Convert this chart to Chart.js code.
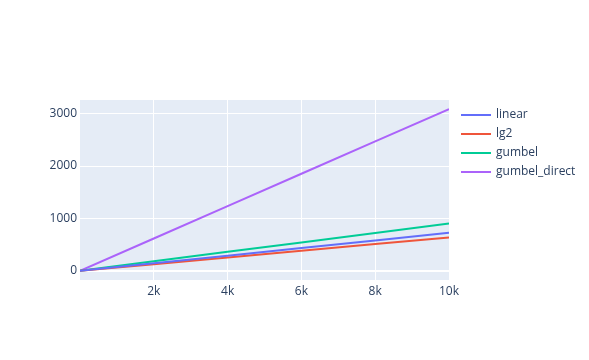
<!DOCTYPE html>
<html>
<head>
<meta charset="utf-8">
<script src="https://cdn.jsdelivr.net/npm/chart.js@4"></script>
<style>
  html, body { margin: 0; padding: 0; background: #fff; }
  #wrap { width: 589px; height: 360px; }
</style>
</head>
<body>
<div id="wrap"><canvas id="chart" width="589" height="360"></canvas></div>
<script>
// values
const xValues = [0, 2000, 4000, 6000, 8000, 10000];
const linear = [0, 145, 290, 435, 580, 725];
const lg2 = [0, 127, 255, 382, 510, 637];
const gumbel = [0, 181, 362, 542, 723, 904];
const gumbelDirect = [0, 617, 1234, 1852, 2469, 3086];
const seriesNames = ["linear", "lg2", "gumbel", "gumbel_direct"];
const seriesColors = ["#636efa", "#EF553B", "#00cc96", "#ab63fa"];
const yTicks = [0, 1000, 2000, 3000];
const xTicks = [2000, 4000, 6000, 8000, 10000];

const FONT = "'Open Sans', 'Noto Sans', sans-serif";
const TEXT = "#2a3f5f";

function pts(ys) {
  return xValues.map((x, i) => ({ x: x, y: ys[i] }));
}

const allSeries = [linear, lg2, gumbel, gumbelDirect];

const dataChart = {
  datasets: allSeries.map((ys, i) => ({
    label: seriesNames[i],
    data: pts(ys),
    borderColor: seriesColors[i],
    backgroundColor: seriesColors[i],
    borderWidth: 2,
    pointRadius: 0,
    tension: 0,
  })),
};

// plot background
const bgPlugin = {
  id: "plotBg",
  beforeDraw(chart) {
    const { ctx, chartArea: a } = chart;
    ctx.save();
    ctx.fillStyle = "#E5ECF6";
    ctx.fillRect(a.left, a.top, a.right - a.left, a.bottom - a.top);
    ctx.restore();
  },
};

// plotly-like legend on the right
const legendPlugin = {
  id: "sideLegend",
  afterDraw(chart) {
    const ctx = chart.ctx;
    ctx.save();
    ctx.font = "12px " + FONT;
    ctx.textBaseline = "middle";
    seriesNames.forEach((name, i) => {
      const y = 115 + i * 19;
      ctx.strokeStyle = seriesColors[i];
      ctx.lineWidth = 2;
      ctx.beginPath();
      ctx.moveTo(461, y);
      ctx.lineTo(491, y);
      ctx.stroke();
      ctx.fillStyle = TEXT;
      ctx.fillText(name, 496, y);
    });
    ctx.restore();
  },
};

const configChart = {
  type: "line",
  data: dataChart,
  options: {
    responsive: false,
    animation: false,
    layout: { padding: { left: 0, top: 100, right: 140, bottom: 0 } },
    plugins: { legend: { display: false }, tooltip: { enabled: false } },
    scales: {
      x: {
        type: "linear",
        min: 0,
        max: 10000,
        border: { display: false },
        grid: { color: "#ffffff", lineWidth: 1, drawTicks: false },
        afterBuildTicks(scale) {
          scale.ticks = xTicks.map((v) => ({ value: v }));
        },
        afterFit(scale) { scale.height = 80; },
        ticks: {
          padding: 4,
          color: TEXT,
          font: { family: FONT, size: 12 },
          maxRotation: 0,
          callback: (v) => v / 1000 + "k",
        },
      },
      y: {
        min: -175,
        max: 3260,
        border: { display: false },
        grid: {
          color: "#ffffff",
          drawTicks: false,
          lineWidth: (c) => (c.tick && c.tick.value === 0 ? 2 : 1),
        },
        afterBuildTicks(scale) {
          scale.ticks = yTicks.map((v) => ({ value: v }));
        },
        afterFit(scale) { scale.width = 80; },
        ticks: {
          padding: 3,
          color: TEXT,
          font: { family: FONT, size: 12 },
          callback: (v) => String(v),
        },
      },
    },
  },
  plugins: [bgPlugin, legendPlugin],
};

let chart = new Chart(document.getElementById("chart"), configChart);
</script>
</body>
</html>
